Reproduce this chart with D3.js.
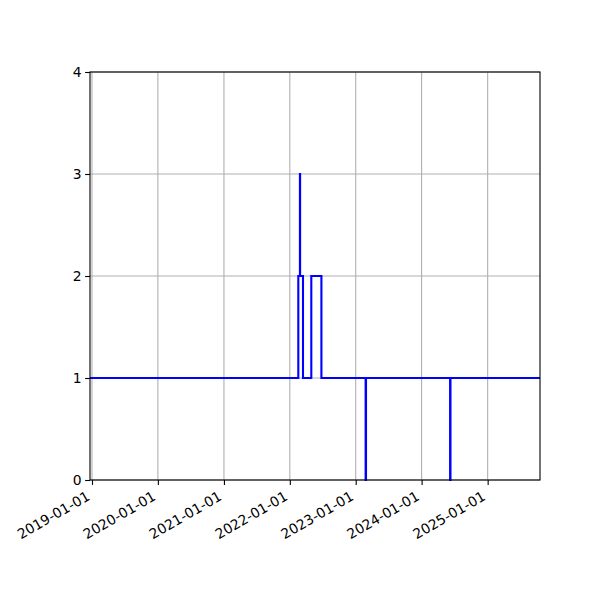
<!DOCTYPE html>
<html>
<head>
<meta charset="utf-8">
<script src="https://cdn.jsdelivr.net/npm/d3@7"></script>
<style>
  html, body { margin: 0; padding: 0; background: #fff; }
  svg { display: block; }
</style>
</head>
<body>
<svg id="chart" width="600" height="600"></svg>
<script>
// Data: change points (step-after)
const dates = ["2018-12-21","2022-02-17","2022-02-26","2022-02-27","2022-03-15","2022-04-30","2022-06-25","2023-02-25","2023-02-27","2024-06-07","2024-06-09","2025-10-18"];
const values = [1, 2, 3, 2, 1, 2, 1, 0, 1, 0, 1, 1];
const xTickLabels = ["2019-01-01","2020-01-01","2021-01-01","2022-01-01","2023-01-01","2024-01-01","2025-01-01"];
const yTicks = [0, 1, 2, 3, 4];
const xDomain = ["2018-12-21", "2025-10-18"];
const yDomain = [0, 4];

const parse = d3.utcParse("%Y-%m-%d");
const data = dates.map((d, i) => ({ date: parse(d), value: values[i] }));

const FONT = "'DejaVu Sans', sans-serif";
const svg = d3.select("#chart");
const margin = { left: 90, right: 60, top: 72, bottom: 120 };
const W = 600, H = 600;
const x = d3.scaleUtc().domain(xDomain.map(parse)).range([margin.left, W - margin.right]);
const y = d3.scaleLinear().domain(yDomain).range([H - margin.bottom, margin.top]);

// grid
const g = svg.append("g");
g.selectAll("line.vg").data(xTickLabels.map(parse)).enter().append("line")
  .attr("x1", d => x(d)).attr("x2", d => x(d))
  .attr("y1", y(yDomain[0])).attr("y2", y(yDomain[1]))
  .attr("stroke", "#b0b0b0").attr("stroke-width", 1.1);
g.selectAll("line.hg").data(yTicks).enter().append("line")
  .attr("x1", x.range()[0]).attr("x2", x.range()[1])
  .attr("y1", d => y(d)).attr("y2", d => y(d))
  .attr("stroke", "#b0b0b0").attr("stroke-width", 1.1);

// line
const line = d3.line().x(d => x(d.date)).y(d => y(d.value)).curve(d3.curveStepAfter);
svg.append("path").datum(data).attr("d", line)
  .attr("fill", "none").attr("stroke", "#0000ff").attr("stroke-width", 2.1)
  .attr("stroke-linejoin", "miter").attr("stroke-linecap", "butt");

// axes
const xAxis = d3.axisBottom(x).tickValues(xTickLabels.map(parse)).tickFormat(d3.utcFormat("%Y-%m-%d")).tickSize(4.9).tickSizeOuter(0);
const xg = svg.append("g").attr("transform", `translate(0,${H - margin.bottom})`).call(xAxis);
xg.attr("font-family", FONT);
xg.select(".domain").remove();
xg.selectAll(".tick line").attr("stroke", "#000").attr("stroke-width", 1.1);
xg.selectAll(".tick text")
  .attr("font-family", FONT)
  .attr("font-size", 13.9).attr("fill", "#000")
  .attr("text-anchor", "end")
  .attr("x", 0).attr("y", 0)
  .attr("dy", "-0.24em")
  .attr("transform", "translate(0,22) rotate(-30)");

const yAxis = d3.axisLeft(y).tickValues(yTicks).tickFormat(d3.format("d")).tickSize(4.9).tickSizeOuter(0).tickPadding(3.5);
const yg = svg.append("g").attr("transform", `translate(${margin.left},0)`).call(yAxis);
yg.attr("font-family", FONT);
yg.select(".domain").remove();
yg.selectAll(".tick line").attr("stroke", "#000").attr("stroke-width", 1.1);
yg.selectAll(".tick text").attr("font-family", FONT).attr("font-size", 13.9).attr("fill", "#000");

// frame
svg.append("rect")
  .attr("x", x.range()[0]).attr("y", y.range()[1])
  .attr("width", x.range()[1] - x.range()[0]).attr("height", y.range()[0] - y.range()[1])
  .attr("fill", "none").attr("stroke", "#000").attr("stroke-width", 1.1);
</script>
</body>
</html>
